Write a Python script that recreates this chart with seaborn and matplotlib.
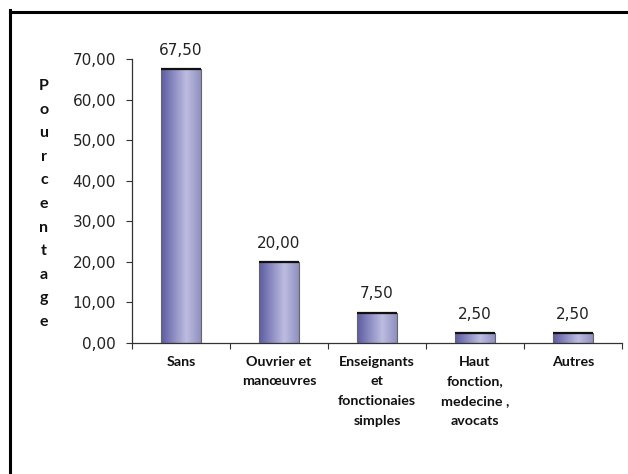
import numpy as np
import matplotlib
matplotlib.use("Agg")
import matplotlib.pyplot as plt
import seaborn as sns
from matplotlib.ticker import FuncFormatter, FixedLocator
from matplotlib.colors import LinearSegmentedColormap
from matplotlib.lines import Line2D

categories = ["Sans", "Ouvrier et\nmanœuvres", "Enseignants\net\nfonctionaies\nsimples",
              "Haut\nfonction,\nmedecine ,\navocats", "Autres"]
values = [67.50, 20.00, 7.50, 2.50, 2.50]
y_ticks = [0, 10, 20, 30, 40, 50, 60, 70]
y_label = "Pourcentage"

sns.set_theme(style="white")
plt.rcParams['font.family'] = ['DejaVu Sans']

fig = plt.figure(figsize=(6.28, 4.74), dpi=100)
W, H = 628, 474
ax = fig.add_axes([132 / W, 1 - 343 / H, (622 - 132) / W, (343 - 59) / H])

sns.barplot(x=list(range(len(values))), y=values, width=0.41, color="#8a8ac4",
            edgecolor="#666666", linewidth=0.8, ax=ax, zorder=3)

cmap = LinearSegmentedColormap.from_list("g", [
    (0.0, (0.36, 0.36, 0.62)),
    (0.15, (0.45, 0.45, 0.70)),
    (0.62, (0.74, 0.74, 0.88)),
    (1.0, (0.55, 0.55, 0.75)),
])
grad = np.linspace(0, 1, 256).reshape(1, -1)
for p in list(ax.patches):
    x0, w, h = p.get_x(), p.get_width(), p.get_height()
    im = ax.imshow(grad, cmap=cmap, extent=[x0, x0 + w, 0, h], aspect="auto",
                   zorder=2.5, interpolation="bilinear")
    im.set_clip_path(p)
    p.set_facecolor("none")
    ax.plot([x0, x0 + w], [h, h], color="#111111", lw=1.6, zorder=4,
            solid_capstyle="butt")

ax.set_xlim(-0.5, len(values) - 0.5)
ax.set_ylim(0, 70)

for c in ax.containers:
    ax.bar_label(c, labels=[f"{v:.2f}".replace(".", ",") for v in values],
                 padding=8, fontsize=11, color="#222222")

ax.set_yticks(y_ticks)
ax.yaxis.set_major_formatter(FuncFormatter(lambda v, pos: f"{v:.2f}".replace(".", ",")))
ax.tick_params(axis="y", which="major", direction="out", length=4.5, width=0.8,
               color="#333333", labelsize=11, labelcolor="#222222", pad=7, left=True)

ax.set_xticks(range(len(values)))
ax.set_xticklabels(categories, fontsize=10.3, fontweight="bold",
                   family=["Lato", "DejaVu Sans"], linespacing=1.78, color="#111111")
ax.tick_params(axis="x", which="major", length=0, pad=9)
ax.xaxis.set_minor_locator(FixedLocator(np.arange(-0.5, len(values), 1.0)))
ax.tick_params(axis="x", which="minor", direction="out", length=4, width=0.8,
               color="#333333", bottom=True)

for s in ["top", "right"]:
    ax.spines[s].set_visible(False)
for s in ["left", "bottom"]:
    ax.spines[s].set_color("#333333")
    ax.spines[s].set_linewidth(0.9)

fig.text(44 / W, 1 - 204 / H, "\n".join(y_label), ha="center", va="center",
         fontsize=11.5, fontweight="bold", family=["Lato", "DejaVu Sans"],
         linespacing=1.87, color="#111111")

fig.add_artist(Line2D([9.5 / W, 9.5 / W], [0, 1 - 10 / H], color="black", lw=2.2,
                      transform=fig.transFigure, solid_capstyle="projecting"))
fig.add_artist(Line2D([9.5 / W, 1], [1 - 11.5 / H, 1 - 11.5 / H], color="black", lw=2.2,
                      transform=fig.transFigure, solid_capstyle="projecting"))

fig.savefig("out.png", dpi=100, facecolor="white")
